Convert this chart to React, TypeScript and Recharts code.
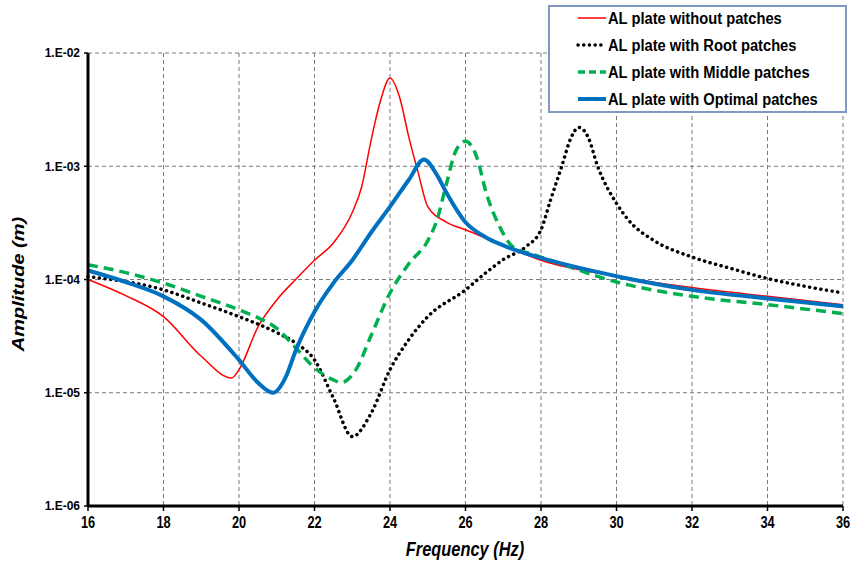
import { LineChart, Line, XAxis, YAxis, CartesianGrid, Label } from 'recharts'

const freqTicks = [16, 18, 20, 22, 24, 26, 28, 30, 32, 34, 36]
const ampTicks = [1e-6, 1e-5, 1e-4, 1e-3, 1e-2]

// AL plate without patches
const noPatchFreq = [16, 17, 18, 19, 19.8, 20, 20.5, 21, 21.5, 22, 22.5, 23, 23.25, 23.5, 23.75, 24, 24.25, 24.5, 24.75, 25, 25.5, 26, 27, 28, 30, 32, 34, 36]
const noPatchAmp = [1.0e-4, 7.2e-5, 4.7e-5, 2.1e-5, 1.35e-5, 1.6e-5, 3.8e-5, 6.6e-5, 1.0e-4, 1.48e-4, 2.1e-4, 3.9e-4, 6.6e-4, 1.7e-3, 3.8e-3, 6.0e-3, 4.1e-3, 1.8e-3, 8.7e-4, 4.4e-4, 3.2e-4, 2.75e-4, 2.0e-4, 1.48e-4, 1.07e-4, 8.5e-5, 7.1e-5, 6.0e-5]

// AL plate with Root patches
const rootFreq = [16, 18, 19, 20, 21, 21.5, 22, 22.5, 23, 23.5, 24, 24.5, 25, 26, 26.5, 27, 27.6, 28, 28.25, 28.55, 28.8, 29, 29.25, 29.5, 30, 30.3, 31, 32, 33, 34, 35, 36]
const rootAmp = [1.06e-4, 8.1e-5, 6.2e-5, 4.7e-5, 3.4e-5, 2.75e-5, 1.95e-5, 9.0e-6, 4.1e-6, 6.6e-6, 1.6e-5, 2.95e-5, 4.7e-5, 8.1e-5, 1.12e-4, 1.5e-4, 1.95e-4, 2.75e-4, 5.0e-4, 1.0e-3, 1.8e-3, 2.2e-3, 1.8e-3, 1.0e-3, 4.7e-4, 3.4e-4, 2.2e-4, 1.58e-4, 1.26e-4, 1.02e-4, 8.7e-5, 7.6e-5]

// AL plate with Middle patches
const middleFreq = [16, 17, 18, 19, 20, 20.5, 21, 21.5, 22, 22.5, 22.7, 23.1, 23.5, 24, 24.5, 25, 25.25, 25.5, 25.75, 26, 26.3, 26.55, 26.9, 27.25, 27.8, 28.25, 30, 32, 34, 36]
const middleAmp = [1.35e-4, 1.15e-4, 9.3e-5, 7.1e-5, 5.4e-5, 4.6e-5, 3.7e-5, 2.5e-5, 1.66e-5, 1.3e-5, 1.23e-5, 1.6e-5, 3.2e-5, 7.6e-5, 1.38e-4, 2.2e-4, 3.4e-4, 7.1e-4, 1.38e-3, 1.66e-3, 1.2e-3, 5.8e-4, 2.95e-4, 1.95e-4, 1.66e-4, 1.48e-4, 9.5e-5, 7.1e-5, 6.0e-5, 5.0e-5]

// AL plate with Optimal patches
const optimalFreq = [16, 17, 18, 19, 20, 20.5, 20.9, 21.25, 21.5, 22, 22.5, 23, 23.5, 24, 24.5, 24.9, 25.25, 25.5, 26, 26.5, 27, 28, 30, 32, 34, 36]
const optimalAmp = [1.2e-4, 9.5e-5, 7.1e-5, 4.4e-5, 1.95e-5, 1.23e-5, 1.0e-5, 1.4e-5, 2.35e-5, 5.2e-5, 9.3e-5, 1.48e-4, 2.6e-4, 4.4e-4, 7.6e-4, 1.15e-3, 8.3e-4, 5.8e-4, 3.2e-4, 2.4e-4, 2.0e-4, 1.55e-4, 1.07e-4, 8.1e-5, 6.8e-5, 5.8e-5]

const toRows = (f: number[], a: number[]) => f.map((x, i) => ({ f: x, a: a[i] }))

const series = [
  { name: 'AL plate without patches', data: toRows(noPatchFreq, noPatchAmp), color: '#ff0000', width: 1.5, dash: undefined, cap: 'butt' },
  { name: 'AL plate with Root patches', data: toRows(rootFreq, rootAmp), color: '#000000', width: 3.5, dash: '0.1 5.6', cap: 'round' },
  { name: 'AL plate with Middle patches', data: toRows(middleFreq, middleAmp), color: '#00b050', width: 3.5, dash: '10 6', cap: 'butt' },
  { name: 'AL plate with Optimal patches', data: toRows(optimalFreq, optimalAmp), color: '#0070c0', width: 4, dash: undefined, cap: 'butt' },
]

const font = "'Liberation Sans', Arial, sans-serif"

const formatAmp = (v: number) => {
  const e = Math.round(-Math.log10(v))
  return `1.E-${String(e).padStart(2, '0')}`
}

const XTick = (props: any) => {
  const { x, y, payload } = props
  return (
    <text transform={`translate(${x},${y}) scale(0.8,1)`} textAnchor="middle" dy="0.71em"
      fontFamily={font} fontWeight="bold" fontSize={16} fill="#000">
      {payload.value}
    </text>
  )
}

const LegendBox = () => (
  <svg width={299} height={108} style={{ position: 'absolute', left: 548, top: 5 }}>
    <rect x={1} y={1} width={297} height={106} fill="#fff" stroke="#7f99c2" strokeWidth={2} />
    {series.map((s, i) => {
      const cy = 13 + i * 27
      return (
        <g key={s.name}>
          <line x1={30} x2={58} y1={cy} y2={cy} stroke={s.color} strokeWidth={s.width}
            strokeDasharray={s.dash === '10 6' ? '7 4' : s.dash} strokeLinecap={s.cap as any} />
          <text transform={`translate(60,${cy}) scale(0.92,1)`} dy="0.36em" fontFamily={font}
            fontWeight="bold" fontSize={16} fill="#000">{s.name}</text>
        </g>
      )
    })}
  </svg>
)

export default function App() {
  return (
    <div style={{ width: 851, height: 570, background: '#fff', position: 'relative' }}>
      <style>{'body{margin:0}'}</style>
      <LineChart width={851} height={570} margin={{ top: 53, right: 8, bottom: 0, left: 0 }}>
        <CartesianGrid stroke="#7a7a7a" strokeDasharray="4 3" strokeWidth={1} />
        <XAxis type="number" dataKey="f" domain={[16, 36]} ticks={freqTicks} allowDuplicatedCategory={false}
          height={64} tickSize={5} tickMargin={6} axisLine={{ stroke: '#000', strokeWidth: 3 }}
          tickLine={{ stroke: '#000', strokeWidth: 1.5 }} tick={<XTick />}>
          <Label content={() => (
            <text transform="translate(465,556) scale(0.8,1)" textAnchor="middle" fontFamily={font}
              fontWeight="bold" fontStyle="italic" fontSize={20.5} fill="#000">Frequency (Hz)</text>
          )} />
        </XAxis>
        <YAxis type="number" dataKey="a" scale="log" domain={[1e-6, 1e-2]} ticks={ampTicks} allowDataOverflow
          width={88} tickSize={4} tickMargin={4} tickFormatter={formatAmp}
          axisLine={{ stroke: '#000', strokeWidth: 3 }} tickLine={{ stroke: '#000', strokeWidth: 1.5 }}
          tick={{ fontFamily: font, fontWeight: 'bold', fontSize: 12, fill: '#000' }}>
          <Label content={() => (
            <text transform="translate(24,284) scale(0.8,1) rotate(-90)" textAnchor="middle" fontFamily={font}
              fontWeight="bold" fontStyle="italic" fontSize={20} fill="#000">Amplitude (m)</text>
          )} />
        </YAxis>
        {series.map((s) => (
          <Line key={s.name} data={s.data} dataKey="a" name={s.name} type="monotone" stroke={s.color}
            strokeWidth={s.width} strokeDasharray={s.dash} strokeLinecap={s.cap as any}
            dot={false} activeDot={false} isAnimationActive={false} />
        ))}
      </LineChart>
      <LegendBox />
    </div>
  )
}
